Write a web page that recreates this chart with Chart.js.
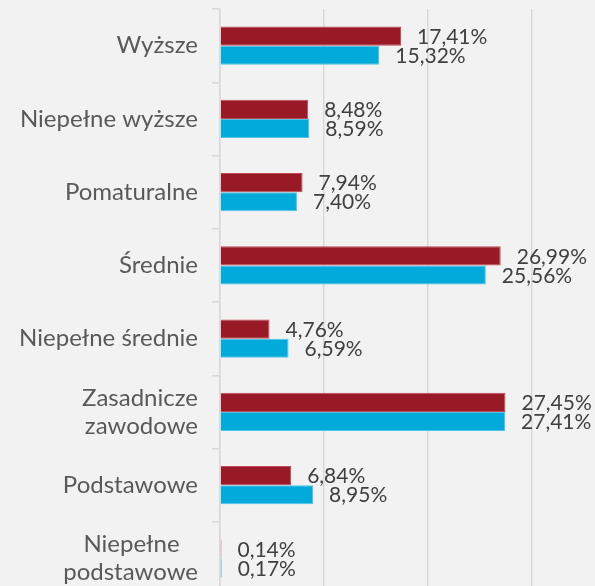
<!DOCTYPE html>
<html>
<head>
<meta charset="utf-8">
<script src="https://cdn.jsdelivr.net/npm/chart.js@4"></script>
<style>
  html, body { margin: 0; padding: 0; background: #F2F2F2; overflow: hidden; }
  #wrap { width: 640px; height: 595px; }
</style>
</head>
<body>
<div id="wrap"><canvas id="myChart"></canvas></div>
<script>
// categories and series
let categories = [
  "Wyższe",
  "Niepełne wyższe",
  "Pomaturalne",
  "Średnie",
  "Niepełne średnie",
  ["Zasadnicze", "zawodowe"],
  "Podstawowe",
  ["Niepełne\u00a0\u00a0\u00a0", "podstawowe"]
];
let seriesRed = [17.41, 8.48, 7.94, 26.99, 4.76, 27.45, 6.84, 0.14];
let seriesBlue = [15.32, 8.59, 7.40, 25.56, 6.59, 27.41, 8.95, 0.17];
let xTicks = [0, 10, 20, 30, 40];

// draws the % value labels next to each bar
let valueLabels = {
  id: 'valueLabels',
  afterDatasetsDraw(chart) {
    let ctx = chart.ctx;
    ctx.save();
    ctx.font = '21px Lato';
    ctx.fillStyle = '#404040';
    ctx.textAlign = 'left';
    ctx.textBaseline = 'middle';
    chart.data.datasets.forEach((ds, i) => {
      chart.getDatasetMeta(i).data.forEach((bar, j) => {
        let txt = ds.data[j].toFixed(2).replace('.', ',') + '%';
        ctx.fillText(txt, bar.x + 16, bar.y + 1);
      });
    });
    ctx.restore();
  }
};

let barChart = new Chart(document.getElementById("myChart"), {
  type: 'bar',
  data: {
    labels: categories,
    datasets: [
      {
        data: seriesRed,
        backgroundColor: '#9A1926',
        borderColor: '#C04A55',
        borderWidth: 1,
        borderSkipped: 'left'
      },
      {
        data: seriesBlue,
        backgroundColor: '#00AADB',
        borderColor: '#4FC3E6',
        borderWidth: 1,
        borderSkipped: 'left'
      }
    ]
  },
  options: {
    indexAxis: 'y',
    responsive: true,
    maintainAspectRatio: false,
    animation: false,
    categoryPercentage: 0.52,
    barPercentage: 1,
    layout: { padding: { top: 9, right: 4, bottom: 0, left: 0 } },
    plugins: {
      legend: { display: false },
      tooltip: { enabled: false }
    },
    scales: {
      x: {
        min: xTicks[0],
        max: xTicks[xTicks.length - 1],
        afterBuildTicks: (scale) => { scale.ticks = xTicks.map(v => ({ value: v })); },
        ticks: { display: false },
        grid: { color: '#D9D9D9', lineWidth: 1.5, drawTicks: false },
        border: { display: false }
      },
      y: {
        afterFit: (scale) => {
          scale.width = 220;
          scale.paddingTop = 0;
          scale.paddingBottom = 0;
        },
        ticks: {
          font: { family: 'Lato', size: 24, lineHeight: 1.17 },
          color: '#595959',
          padding: 14
        },
        grid: {
          drawOnChartArea: false,
          drawTicks: true,
          tickLength: 8,
          color: '#D9D9D9',
          lineWidth: 1.5
        },
        border: { display: true, color: '#D9D9D9', width: 1.5 }
      }
    }
  },
  plugins: [valueLabels]
});
</script>
</body>
</html>
